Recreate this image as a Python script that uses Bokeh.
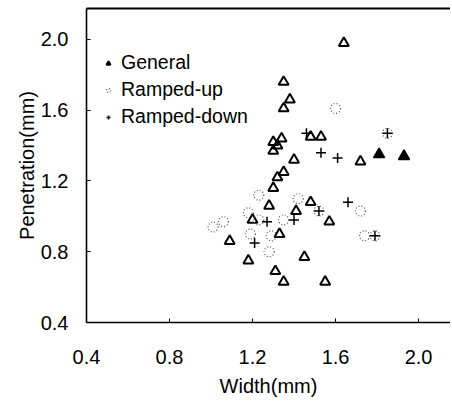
from bokeh.plotting import figure
from bokeh.models import FixedTicker, Legend, LegendItem, LinearAxis, NumeralTickFormatter
from bokeh.embed import file_html
from bokeh.resources import INLINE

# ---- data ----
general_w = [1.64, 1.35, 1.38, 1.35, 1.34, 1.30, 1.32, 1.30, 1.48, 1.53, 1.40, 1.72, 1.35, 1.32,
             1.30, 1.28, 1.48, 1.41, 1.57, 1.20, 1.33, 1.09, 1.18, 1.45, 1.31, 1.35, 1.55]
general_p = [1.98, 1.76, 1.66, 1.61, 1.44, 1.42, 1.40, 1.37, 1.45, 1.45, 1.32, 1.31, 1.25, 1.22,
             1.16, 1.06, 1.08, 1.03, 0.97, 0.98, 0.90, 0.86, 0.75, 0.77, 0.69, 0.63, 0.63]
general_filled_w = [1.81, 1.93]
general_filled_p = [1.35, 1.34]
up_w = [1.60, 1.23, 1.42, 1.01, 1.06, 1.18, 1.19, 1.28, 1.35, 1.29, 1.72, 1.74, 1.52, 1.79, 1.85, 1.23]
up_p = [1.61, 1.12, 1.10, 0.94, 0.97, 1.02, 0.90, 0.80, 0.98, 0.89, 1.03, 0.89, 1.03, 0.89, 1.47, 0.98]
down_w = [1.46, 1.53, 1.61, 1.66, 1.85, 1.52, 1.79, 1.27, 1.21, 1.40]
down_p = [1.47, 1.36, 1.33, 1.08, 1.47, 1.03, 0.89, 0.97, 0.85, 0.98]
ticks = [0.4, 0.8, 1.2, 1.6, 2.0]
labels = ["General", "Ramped-up", "Ramped-down"]

FONT = "Liberation Sans"

p = figure(width=450, height=399, output_backend="svg", toolbar_location=None,
           x_range=(0.4, 2.154), y_range=(0.4, 2.175),
           min_border_left=86, min_border_right=0, min_border_top=8, min_border_bottom=74)
p.grid.visible = False
p.outline_line_color = None
p.background_fill_color = "white"

for ax in (p.xaxis[0], p.yaxis[0]):
    ax.ticker = FixedTicker(ticks=ticks)
    ax.formatter = NumeralTickFormatter(format="0.0")
    ax.major_tick_in = 4
    ax.major_tick_out = 0
    ax.minor_tick_line_color = None
    ax.axis_line_width = 1.6
    ax.axis_line_color = "black"
    ax.major_tick_line_color = "black"
    ax.major_label_text_font = FONT
    ax.major_label_text_font_size = "20px"
    ax.major_label_text_color = "black"
    ax.axis_label_text_font = FONT
    ax.axis_label_text_font_size = "20px"
    ax.axis_label_text_font_style = "normal"
    ax.axis_label_text_color = "black"

p.xaxis.axis_label = "Width(mm)"
p.yaxis.axis_label = "Penetration(mm)"
p.xaxis.major_label_standoff = 27
p.xaxis.axis_label_standoff = 8
p.yaxis.major_label_standoff = 18
p.yaxis.axis_label_standoff = 0

top_axis = LinearAxis(ticker=FixedTicker(ticks=[]), major_label_text_font_size="0px",
                      major_tick_in=0, major_tick_out=0, minor_tick_line_color=None,
                      axis_line_width=1.8, axis_line_color="black")
p.add_layout(top_axis, "above")

r_gen = p.scatter(general_w, general_p, marker="triangle", size=10, fill_color=None,
                  line_color="black", line_width=2)
p.scatter(general_filled_w, general_filled_p, marker="triangle", size=11,
          fill_color="black", line_color="black", line_width=1.5)
r_up = p.scatter(up_w, up_p, marker="circle", size=10, fill_color=None,
                 line_color="#555555", line_width=1.2, line_dash="1 2")
r_down = p.scatter(down_w, down_p, marker="cross", size=10, line_color="black", line_width=1.5)

legend = Legend(items=[LegendItem(label=labels[0], renderers=[r_gen]),
                       LegendItem(label=labels[1], renderers=[r_up]),
                       LegendItem(label=labels[2], renderers=[r_down])],
                location=(17, 194), border_line_color=None, background_fill_alpha=0,
                padding=0, margin=0, spacing=4, glyph_width=10, glyph_height=20,
                label_height=20, label_standoff=8,
                label_text_font=FONT, label_text_font_size="19.5px", label_text_color="black")
p.add_layout(legend)

open("out.html", "w").write(file_html(p, INLINE))
